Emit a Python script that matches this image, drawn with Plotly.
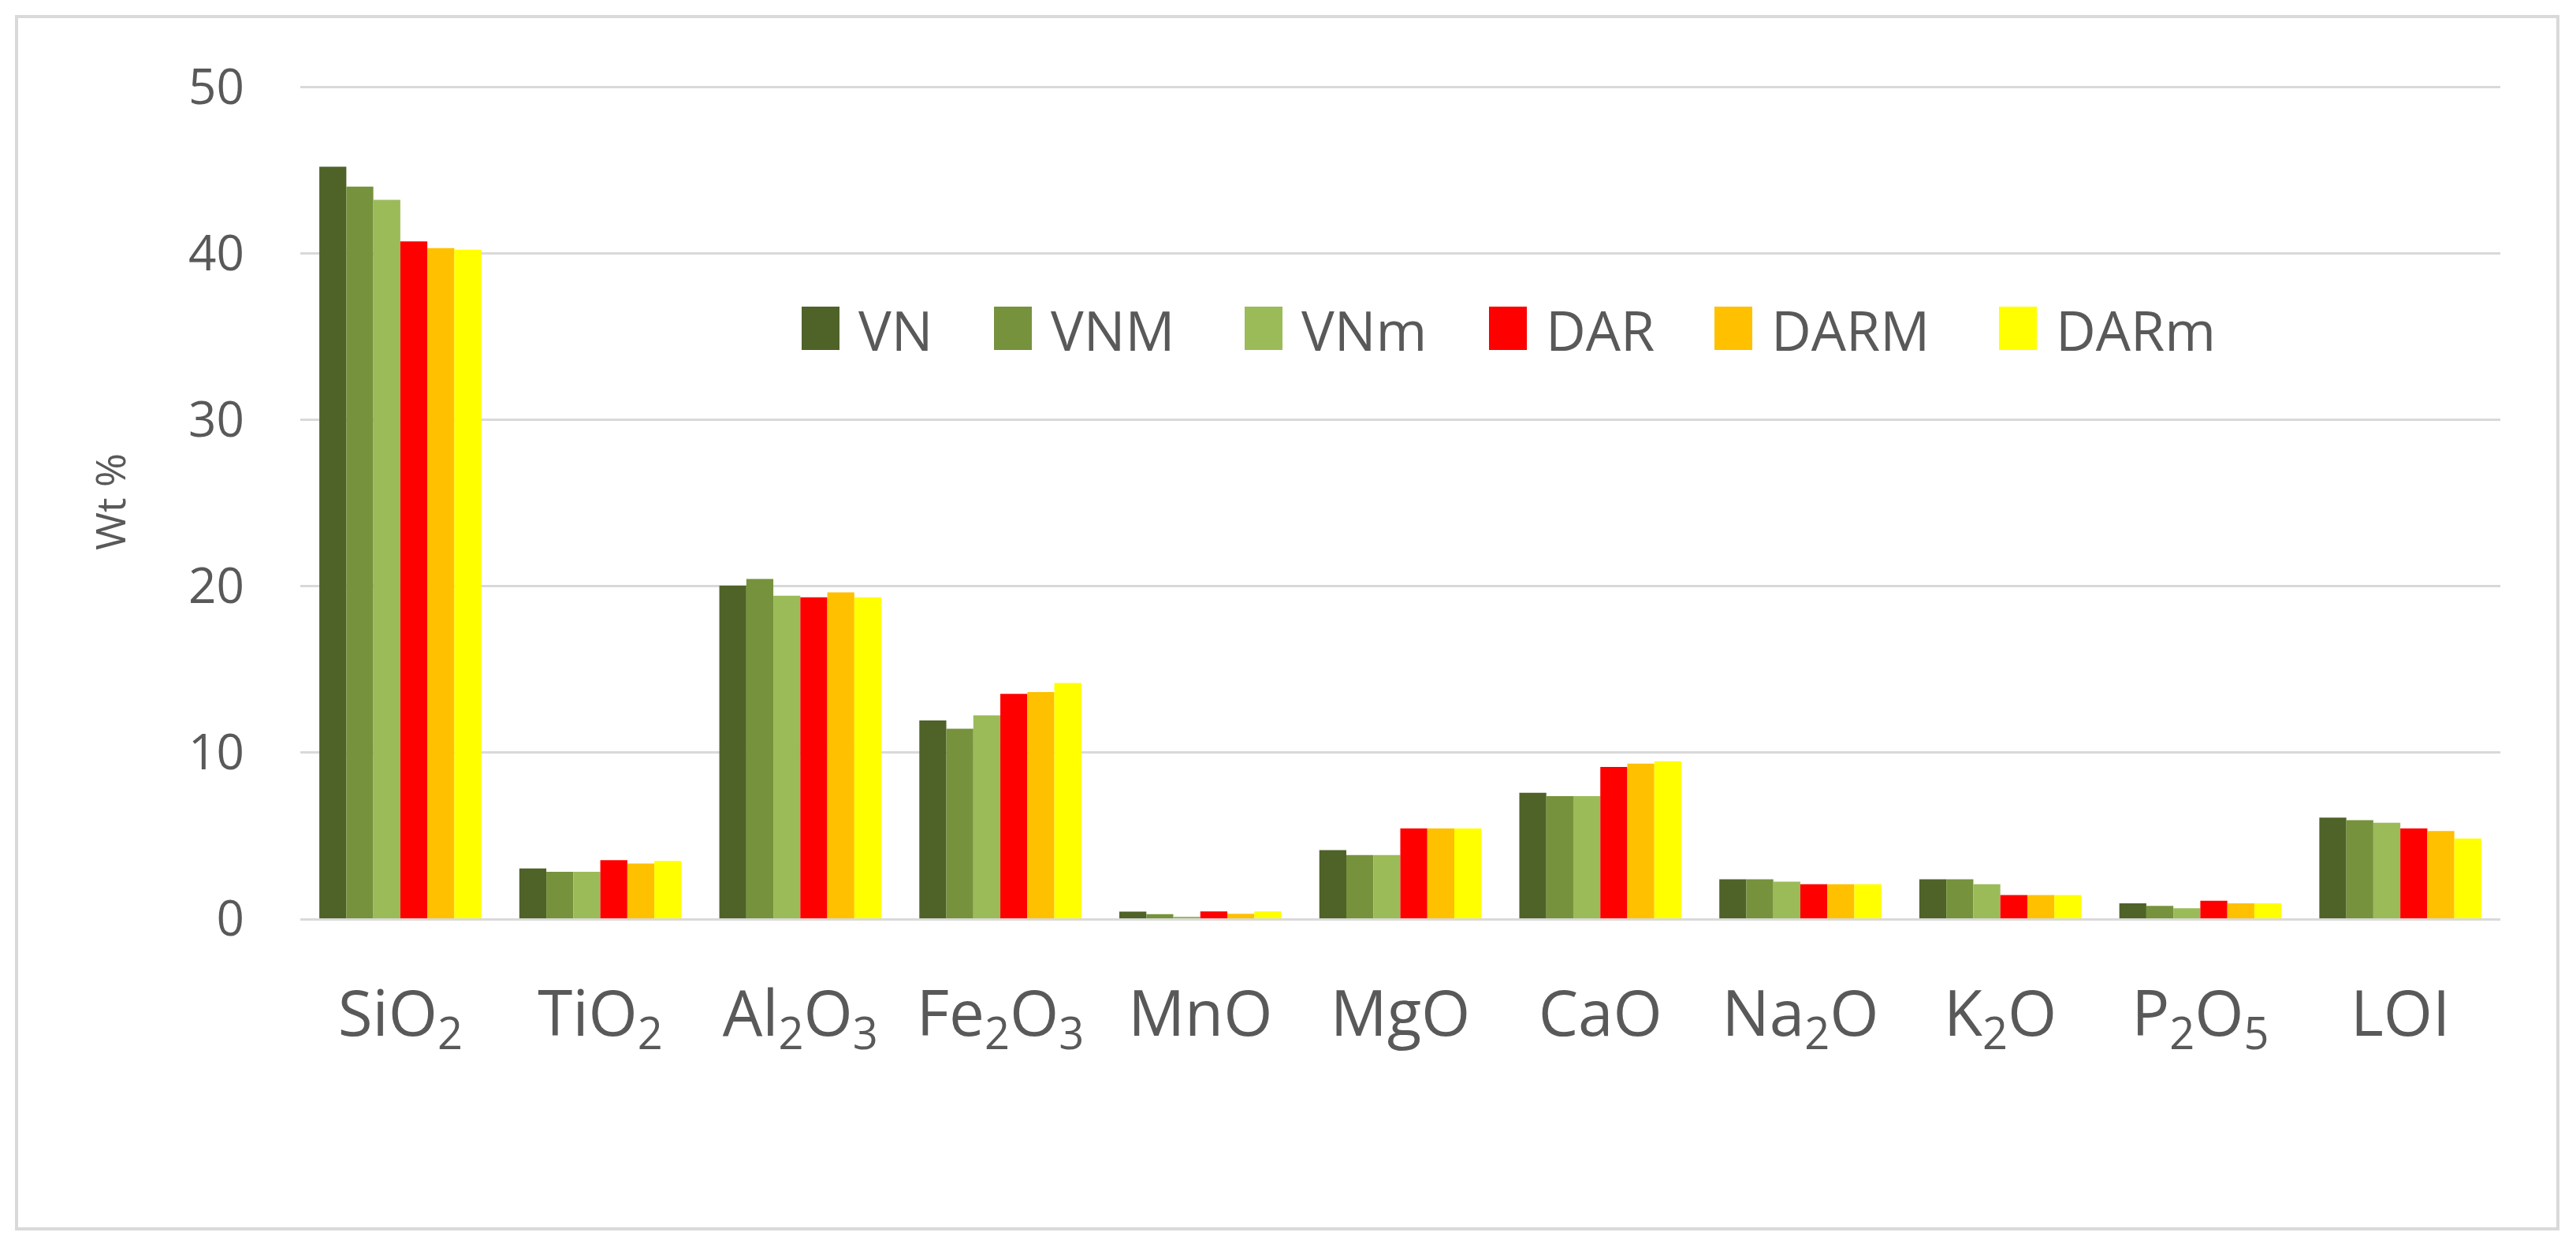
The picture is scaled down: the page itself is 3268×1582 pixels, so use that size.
import plotly.graph_objects as go

# ---- data ----
categories = ["SiO<sub>2</sub>", "TiO<sub>2</sub>", "Al<sub>2</sub>O<sub>3</sub>", "Fe<sub>2</sub>O<sub>3</sub>",
              "MnO", "MgO", "CaO", "Na<sub>2</sub>O", "K<sub>2</sub>O", "P<sub>2</sub>O<sub>5</sub>", "LOI"]
series_names = ["VN", "VNM", "VNm", "DAR", "DARM", "DARm"]
VN   = [45.2, 3.0, 20.0, 11.9, 0.40, 4.1, 7.55, 2.35, 2.35, 0.90, 6.05]
VNM  = [44.0, 2.8, 20.4, 11.4, 0.25, 3.8, 7.35, 2.35, 2.35, 0.75, 5.90]
VNm  = [43.2, 2.8, 19.4, 12.2, 0.05, 3.8, 7.35, 2.20, 2.05, 0.60, 5.75]
DAR  = [40.7, 3.5, 19.3, 13.5, 0.42, 5.4, 9.10, 2.05, 1.40, 1.05, 5.40]
DARM = [40.3, 3.3, 19.6, 13.6, 0.27, 5.4, 9.30, 2.05, 1.40, 0.90, 5.25]
DARm = [40.2, 3.45, 19.3, 14.15, 0.42, 5.4, 9.45, 2.05, 1.40, 0.90, 4.80]
series_values = [VN, VNM, VNm, DAR, DARM, DARm]
series_colors = ["#4f6228", "#76923c", "#9bbb59", "#ff0000", "#ffc000", "#ffff00"]
y_ticks = [0, 10, 20, 30, 40, 50]

# ---- layout geometry (pixels) ----
W, H = 3268, 1582
OFF = 8  # page body margin
PLOT_L, PLOT_R, PLOT_T, PLOT_B = 381, 3172, 108, 1165  # absolute page pixels
L = PLOT_L - OFF
T = PLOT_T - OFF
R = W - (PLOT_R - OFF)
B = H - (PLOT_B - OFF)
PW, PH = PLOT_R - PLOT_L, PLOT_B - PLOT_T

def px_x(px):
    return (px - PLOT_L) / PW

def px_y(py):
    return (PLOT_B - py) / PH

FONT = "Open Sans"
GREY = "#595959"

fig = go.Figure()
for name, vals, col in zip(series_names, series_values, series_colors):
    fig.add_trace(go.Bar(name=name, x=categories, y=vals, marker=dict(color=col, line=dict(width=0)),
                         showlegend=False))

# custom legend (large swatches like the original)
legend_swatch_px = [1017, 1261, 1579, 1889, 2175, 2536]
shapes = []
annotations = []
for name, col, sx in zip(series_names, series_colors, legend_swatch_px):
    shapes.append(dict(type="rect", xref="paper", yref="paper",
                       x0=px_x(sx), x1=px_x(sx + 48), y0=px_y(444), y1=px_y(389),
                       fillcolor=col, line=dict(width=0)))
    annotations.append(dict(text=name, xref="paper", yref="paper", x=px_x(sx + 70), y=px_y(418),
                            xanchor="left", yanchor="middle", showarrow=False,
                            font=dict(family=FONT, size=70, color=GREY)))

# outer border
shapes.append(dict(type="rect", xref="paper", yref="paper",
                   x0=px_x(21), x1=px_x(3245), y0=px_y(1559), y1=px_y(21),
                   line=dict(color="#d9d9d9", width=4), fillcolor="rgba(0,0,0,0)", layer="below"))

fig.update_layout(
    width=W, height=H, autosize=False,
    margin=dict(l=L, r=R, t=T, b=B, pad=0),
    paper_bgcolor="white", plot_bgcolor="white",
    barmode="group", bargap=0.19, bargroupgap=0.0,
    shapes=shapes, annotations=annotations,
    font=dict(family=FONT, color=GREY),
    xaxis=dict(showgrid=False, ticks="", showline=True, linecolor="#d9d9d9", linewidth=3,
               tickfont=dict(family=FONT, size=80, color=GREY), ticklabelstandoff=50, automargin=False),
    yaxis=dict(range=[0, 50.1], tickvals=y_ticks, showgrid=True, gridcolor="#d9d9d9", gridwidth=3,
               zeroline=False, showline=False, ticks="",
               tickfont=dict(family=FONT, size=62, color=GREY), ticklabelstandoff=70,
               title=dict(text="Wt %", font=dict(family=FONT, size=52, color=GREY), standoff=62),
               automargin=False),
)

fig.write_html("out.html")
